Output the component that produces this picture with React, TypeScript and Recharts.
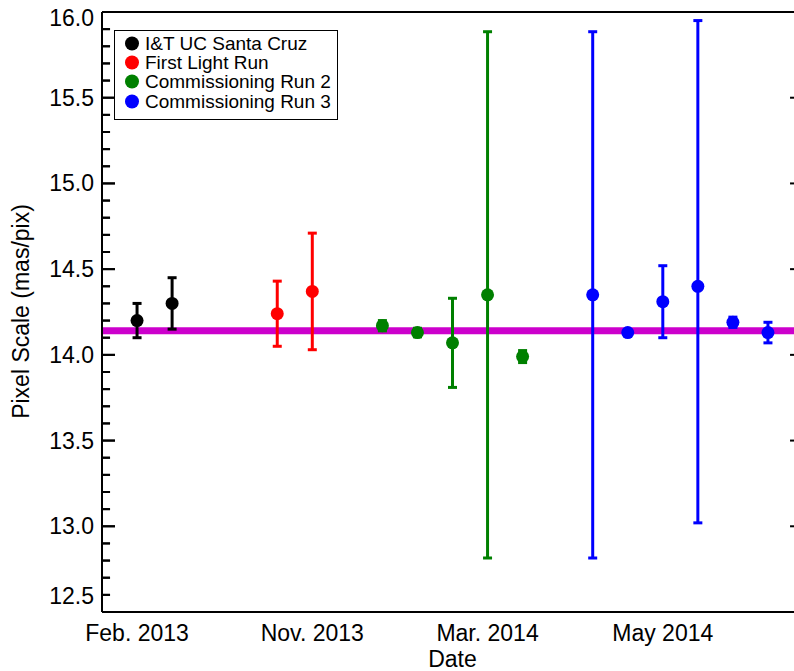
import React from 'react';
import { ScatterChart, Scatter, XAxis, YAxis, ErrorBar, ReferenceLine } from 'recharts';

const FONT = '"Liberation Sans", Arial, Helvetica, sans-serif';

// ---- data ----
const seriesNames = ['I&T UC Santa Cruz', 'First Light Run', 'Commissioning Run 2', 'Commissioning Run 3'];
const seriesColors = ['#000000', '#ff0000', '#008000', '#0000ff'];

const santaCruzX = [0, 1];
const santaCruzY = [14.2, 14.3];
const santaCruzErrLow = [0.1, 0.15];
const santaCruzErrHigh = [0.1, 0.15];

const firstLightX = [4, 5];
const firstLightY = [14.24, 14.37];
const firstLightErrLow = [0.19, 0.34];
const firstLightErrHigh = [0.19, 0.34];

const comm2X = [7, 8, 9, 10, 11];
const comm2Y = [14.17, 14.13, 14.07, 14.35, 13.99];
const comm2ErrLow = [0.03, 0.025, 0.26, 1.535, 0.035];
const comm2ErrHigh = [0.03, 0.025, 0.26, 1.535, 0.035];

const comm3X = [13, 14, 15, 16, 17, 18];
const comm3Y = [14.35, 14.13, 14.31, 14.4, 14.19, 14.13];
const comm3ErrLow = [1.535, 0.0, 0.21, 1.38, 0.03, 0.06];
const comm3ErrHigh = [1.535, 0.0, 0.21, 1.55, 0.03, 0.06];

const meanPixelScale = 14.14;

const xTicks = [0, 5, 10, 15];
const xTickLabels = ['Feb. 2013', 'Nov. 2013', 'Mar. 2014', 'May 2014'];
const xDomain = [-1, 19];

const yMajorTicks = [12.5, 13.0, 13.5, 14.0, 14.5, 15.0, 15.5, 16.0];
const yMinorTicks = [
  12.6, 12.7, 12.8, 12.9, 13.1, 13.2, 13.3, 13.4,
  13.6, 13.7, 13.8, 13.9, 14.1, 14.2, 14.3, 14.4,
  14.6, 14.7, 14.8, 14.9, 15.1, 15.2, 15.3, 15.4,
  15.6, 15.7, 15.8, 15.9,
];
const yAllTicks = [...yMajorTicks, ...yMinorTicks].sort((a, b) => a - b);
const yDomain = [12.5, 16.0];

// tick-mark lengths, in x-axis units (inward-pointing ticks)
const MAJOR_TICK_LEN = 0.37;
const MINOR_TICK_LEN = 0.23;

const build = (xs: number[], ys: number[], lo: number[], hi: number[]) =>
  xs.map((x, i) => ({ x, y: ys[i], err: [lo[i], hi[i]] }));

const seriesData = [
  build(santaCruzX, santaCruzY, santaCruzErrLow, santaCruzErrHigh),
  build(firstLightX, firstLightY, firstLightErrLow, firstLightErrHigh),
  build(comm2X, comm2Y, comm2ErrLow, comm2ErrHigh),
  build(comm3X, comm3Y, comm3ErrLow, comm3ErrHigh),
];

const tickMarks = [
  ...yMajorTicks.map((v) => ({ v, len: MAJOR_TICK_LEN })),
  ...yMinorTicks.map((v) => ({ v, len: MINOR_TICK_LEN })),
];

const TICK_MARGIN = 8;
const isMajor = (v: number) => Math.abs(v * 2 - Math.round(v * 2)) < 1e-6;

const LeftTick = (props: any) => {
  const x = Number(props.x);
  const y = Number(props.y);
  const v = Number(props.payload.value);
  const major = isMajor(v);
  const axisX = x + TICK_MARGIN;
  const len = major ? 13 : 8;
  let shift = 0;
  if (Math.abs(v - 16) < 1e-6) shift = 6;
  if (Math.abs(v - 12.5) < 1e-6) shift = -16;
  return (
    <g>
      <line x1={axisX} x2={axisX + len} y1={y} y2={y} stroke="#000" strokeWidth={2} />
      {major && (
        <text x={x} y={y + shift} textAnchor="end" dominantBaseline="central" fontSize={23} fontFamily={FONT} fill="#000">
          {v.toFixed(1)}
        </text>
      )}
    </g>
  );
};

const Dot = (color: string) => (props: any) => (
  <circle cx={props.cx} cy={props.cy} r={6.5} fill={color} />
);

const LegendBox = () => (
  <div
    style={{
      position: 'absolute',
      left: 114,
      top: 30,
      border: '1px solid #000',
      background: '#fff',
      width: 222,
      height: 85,
      boxSizing: 'content-box',
      fontFamily: FONT,
      fontSize: 19,
      paddingTop: 3,
    }}
  >
    {seriesNames.map((n, i) => (
      <div key={n} style={{ display: 'flex', alignItems: 'center', height: 19.2, lineHeight: '19.2px' }}>
        <svg width={30} height={19} style={{ flex: 'none' }}>
          <circle cx={17} cy={9.5} r={7} fill={seriesColors[i]} />
        </svg>
        <span style={{ whiteSpace: 'nowrap', color: '#000' }}>{n}</span>
      </div>
    ))}
  </div>
);

const YTitle = () => (
  <svg width={60} height={671} style={{ position: 'absolute', left: 0, top: 0, pointerEvents: 'none' }}>
    <text
      x={28.5}
      y={311.5}
      transform="rotate(-90, 28.5, 311.5)"
      textAnchor="middle"
      fontSize={23}
      fontFamily={FONT}
      fill="#000"
    >
      Pixel Scale (mas/pix)
    </text>
  </svg>
);

export default function App() {
  return (
    <div style={{ position: 'absolute', left: 0, top: 0, width: 794, height: 671, overflow: 'hidden', background: '#fff' }}>
      <ScatterChart width={810} height={671} margin={{ top: 12, right: 7, bottom: 0, left: 0 }}>
        <XAxis
          type="number"
          dataKey="x"
          domain={xDomain}
          ticks={xTicks}
          interval={0}
          allowDataOverflow
          tickFormatter={(v: number) => xTickLabels[xTicks.indexOf(v)] ?? ''}
          tickLine={false}
          tickSize={0}
          tickMargin={13}
          height={59}
          axisLine={{ stroke: '#000', strokeWidth: 2 }}
          tick={{ fontSize: 23, fill: '#000', fontFamily: FONT }}
          label={{ value: 'Date', position: 'insideBottom', offset: 4, fontSize: 23, fill: '#000', fontFamily: FONT }}
        />
        <YAxis
          type="number"
          dataKey="y"
          domain={yDomain}
          ticks={yAllTicks}
          interval={0}
          allowDataOverflow
          width={102}
          tickSize={0}
          tickMargin={TICK_MARGIN}
          tickLine={false}
          tick={<LeftTick />}
          axisLine={{ stroke: '#000', strokeWidth: 2 }}
        />
        <ReferenceLine y={yDomain[1]} stroke="#000" strokeWidth={2} ifOverflow="visible" />
        <ReferenceLine y={meanPixelScale} stroke="#cc00cc" strokeWidth={7} />
        {tickMarks.map((t) => (
          <ReferenceLine
            key={`l${t.v}`}
            segment={[{ x: xDomain[0], y: t.v }, { x: xDomain[0] + t.len, y: t.v }]}
            stroke="#000"
            strokeWidth={2}
            ifOverflow="visible"
          />
        ))}
        {tickMarks.map((t) => (
          <ReferenceLine
            key={`r${t.v}`}
            segment={[{ x: xDomain[1] - t.len, y: t.v }, { x: xDomain[1], y: t.v }]}
            stroke="#000"
            strokeWidth={2}
            ifOverflow="visible"
          />
        ))}
        {seriesData.map((d, i) => (
          <Scatter
            key={seriesNames[i]}
            name={seriesNames[i]}
            data={d}
            fill={seriesColors[i]}
            shape={Dot(seriesColors[i])}
            isAnimationActive={false}
          >
            <ErrorBar dataKey="err" direction="y" width={4.5} strokeWidth={3} stroke={seriesColors[i]} isAnimationActive={false} />
          </Scatter>
        ))}
      </ScatterChart>
      <YTitle />
      <LegendBox />
    </div>
  );
}
